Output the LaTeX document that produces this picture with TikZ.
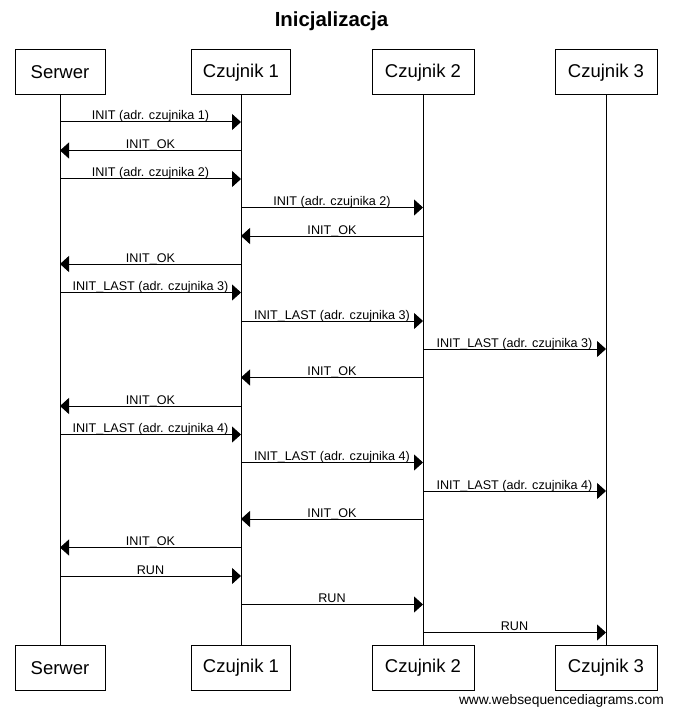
\documentclass[tikz,border=0pt]{standalone}
\usepackage{fontspec}
\setmainfont{Liberation Sans}
\usetikzlibrary{arrows.meta}
\tikzset{
  actorbox/.style={draw=black, line width=1pt, fill=white, minimum width=#1, minimum height=45pt, inner sep=0pt, font=\fontsize{18.5}{20}\selectfont},
  lifeline/.style={draw=black, line width=1pt},
  msgline/.style={draw=black, line width=1pt, -{Triangle[length=9pt,width=16pt]}, shorten >=0pt},
  msglabel/.style={midway, anchor=base, yshift=2pt, inner sep=0pt, font=\fontsize{12.6}{14}\selectfont}
}
\newcommand\msgarrow[4]{%
  \draw[msgline] (#1 |- 0,#3) -- (#2 |- 0,#3) node[msglabel]{#4};}
\begin{document}
\begin{tikzpicture}[x=1pt,y=-1pt]
\useasboundingbox[fill=white] (0,0) rectangle (672,714);
\node[font=\bfseries\fontsize{20.4}{22}\selectfont] (title) at (331.5,21) {Inicjalizacja};
% top actors
\node[actorbox=90pt] (st) at (60,72.5) {Serwer};
\node[actorbox=99pt] (c1t) at (241,72.5) {Czujnik 1};
\node[actorbox=102pt] (c2t) at (423,72.5) {Czujnik 2};
\node[actorbox=102pt] (c3t) at (606,72.5) {Czujnik 3};
% bottom actors
\node[actorbox=90pt] (sb) at (60,668) {Serwer};
\node[actorbox=99pt] (c1b) at (241,668) {Czujnik 1};
\node[actorbox=102pt] (c2b) at (423,668) {Czujnik 2};
\node[actorbox=102pt] (c3b) at (606,668) {Czujnik 3};
% lifelines
\draw[lifeline] (st.south) -- (sb.north);
\draw[lifeline] (c1t.south) -- (c1b.north);
\draw[lifeline] (c2t.south) -- (c2b.north);
\draw[lifeline] (c3t.south) -- (c3b.north);
% messages
\msgarrow{st}{c1t}{122}{INIT (adr. czujnika 1)}
\msgarrow{c1t}{st}{150.5}{INIT\_OK}
\msgarrow{st}{c1t}{179}{INIT (adr. czujnika 2)}
\msgarrow{c1t}{c2t}{207.5}{INIT (adr. czujnika 2)}
\msgarrow{c2t}{c1t}{236}{INIT\_OK}
\msgarrow{c1t}{st}{264}{INIT\_OK}
\msgarrow{st}{c1t}{292.5}{INIT\_LAST (adr. czujnika 3)}
\msgarrow{c1t}{c2t}{321}{INIT\_LAST (adr. czujnika 3)}
\msgarrow{c2t}{c3t}{349}{INIT\_LAST (adr. czujnika 3)}
\msgarrow{c2t}{c1t}{377.5}{INIT\_OK}
\msgarrow{c1t}{st}{406}{INIT\_OK}
\msgarrow{st}{c1t}{434.5}{INIT\_LAST (adr. czujnika 4)}
\msgarrow{c1t}{c2t}{462.5}{INIT\_LAST (adr. czujnika 4)}
\msgarrow{c2t}{c3t}{491}{INIT\_LAST (adr. czujnika 4)}
\msgarrow{c2t}{c1t}{519}{INIT\_OK}
\msgarrow{c1t}{st}{547.5}{INIT\_OK}
\msgarrow{st}{c1t}{576}{RUN}
\msgarrow{c1t}{c2t}{604.5}{RUN}
\msgarrow{c2t}{c3t}{632.5}{RUN}
\node[anchor=base east, inner sep=0pt, font=\fontsize{13.8}{15}\selectfont] (footer) at (664,704) {www.websequencediagrams.com};
\end{tikzpicture}
\end{document}
